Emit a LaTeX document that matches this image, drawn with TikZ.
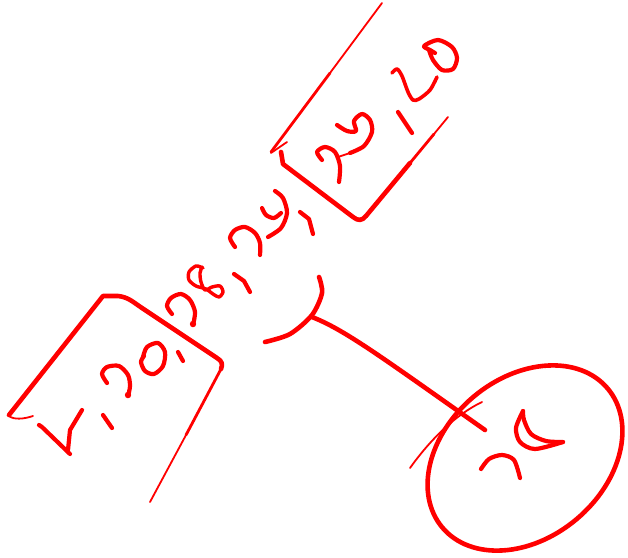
\documentclass[tikz,border=0pt]{standalone}
\begin{document}
\definecolor{ink}{RGB}{255,0,0}
\tikzset{
  pen/.style={draw=ink,line width=4.6pt,line cap=round,line join=round},
  glyph/.style={pen,line width=4.2pt},
  hair/.style={pen,line width=1.8pt},
  tip/.style={pen,line width=2.8pt}
}
\begin{tikzpicture}[x=1pt,y=-1pt]
\useasboundingbox (0,0) rectangle (628,557);
% ---------- box 1 ----------
\draw[hair] (33,416) .. controls (24,419) and (14,420) .. (9,416);
\draw[pen] (9,415) -- (103,296) -- (118,296) .. controls (128,297) and (133,302) .. (142,308) -- (217,358) .. controls (222,361) and (223,364) .. (221,369);
\draw[tip] (221,369) -- (186,435);
\draw[hair] (186,435) -- (150,502);
% ---------- box 2 ----------
\draw[tip] (330,73) -- (271,152);
\draw[hair] (382,3) -- (330,73);
\draw[hair] (271,153) -- (287,142);
\draw[pen] (281,152) -- (283,164) -- (353,217) .. controls (358,221) and (362,221) .. (366,216) -- (410,163);
\draw[tip] (410,163) -- (434,134);
\draw[hair] (434,134) -- (448,117);
% ---------- text strokes ----------
% V glyph
\draw[glyph] (39,425) -- (42,427) -- (70,454);
\draw[glyph] (68,450) -- (70,430) -- (82,410);
% comma
\draw[glyph] (103,415) -- (112,428);
% 2
\draw[glyph] plot[smooth] coordinates {(107,383) (102,374) (107,367) (119,366) (128,375) (130,386) (128,396)};
\fill[ink] (128,395) circle (3.2);
% 0
\draw[glyph] plot[smooth] coordinates {(143,357) (147,347) (158,343) (165,352) (163,366) (154,374) (145,371) (141,362) (144,356)};
% comma
\draw[glyph] (178,352) -- (183,361);
% 2
\draw[glyph] plot[smooth] coordinates {(172,314) (167,306) (171,298) (181,294) (190,300) (195,312) (193,325)};
\fill[ink] (193,324) circle (3.2);
% 8
\draw[glyph,line width=3.4pt] plot[smooth] coordinates {(203,268) (196,266) (189,272) (189,280) (196,286) (206,289) (213,294) (219,297) (223,292) (220,286) (212,287) (205,290) (201,282) (200,273) (202,267)};
% comma
\draw[glyph] (234,274) -- (244,281) -- (250,292);
% 2
\draw[glyph] plot[smooth] coordinates {(235,247) (230,238) (235,230) (245,227) (255,233) (260,243) (260,255)};
% 9
\draw[glyph] plot[smooth] coordinates {(262,208) (266,215) (274,218) (281,213)};
\draw[glyph] plot[smooth] coordinates {(275,191) (283,198) (287,213) (281,228) (268,237)};
% comma
\draw[glyph] (300,212) -- (309,219) -- (313,234);
% 2
\draw[glyph] plot[smooth] coordinates {(322,160) (317,152) (325,147) (335,152) (340,166) (339,182)};
% 4
\draw[glyph] plot[smooth] coordinates {(337,125) (347,131) (356,131) (354,121) (362,114) (370,120) (372,132) (364,146) (350,153)};
\draw[hair] (350,153) -- (338,157);
% comma
\draw[glyph] (398,112) -- (412,133);
% 2
\draw[glyph,line width=3.6pt] plot[smooth] coordinates {(392,73) (397,69) (402,76) (408,92) (413,100) (419,99) (430,90) (437,77)};
% 0
\draw[glyph] plot[smooth] coordinates {(435,53) (430,50) (424,46) (438,40) (452,47) (457,58) (453,69) (442,70) (433,60) (429,50)};
% ---------- junction & connector ----------
\coordinate (junction) at (312,317);
\coordinate (end) at (485,430);
\draw[pen] plot[smooth] coordinates {(319,277) (322,293) (312,315) (290,334) (265,342)};
\draw[pen] (junction) .. controls (345,330) and (380,356) .. (end);
% ---------- oval ----------
\coordinate (oval) at (525,458);
\draw[pen,rotate around={40:(oval)}] (oval) ellipse [x radius=108pt, y radius=80pt];
\draw[hair] (410,468) .. controls (430,440) and (455,415) .. (482,402);
% glyph inside oval
\draw[glyph] plot[smooth] coordinates {(523,411) (516,428) (520,442) (535,449) (563,442)};
\draw[glyph] plot[smooth] coordinates {(563,442) (546,441) (531,434) (524,420) (523,411)};
\draw[glyph] plot[smooth] coordinates {(481,469) (489,459) (502,455) (514,460) (520,478)};
\end{tikzpicture}
\end{document}
